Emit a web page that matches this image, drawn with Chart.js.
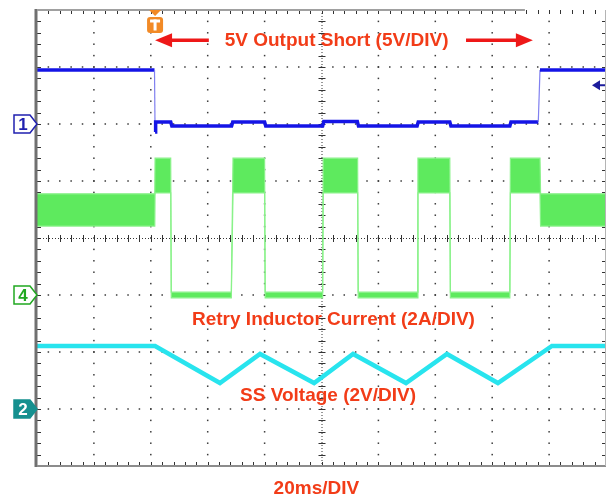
<!DOCTYPE html>
<html>
<head>
<meta charset="utf-8">
<script src="https://cdn.jsdelivr.net/npm/chart.js@4.4.0/dist/chart.umd.min.js"></script>
<style>
  body { margin: 0; background: #fff; }
  #scope { display: block; background: #fff; }
</style>
</head>
<body>
<canvas id="scope" width="610" height="499"></canvas>
<script>
// time axis in ms (20ms/DIV, 10 divisions), vertical axis in divisions (8)
const timeMin = 0, timeMax = 200;
const divMin = 0, divMax = 8;

// channel 1: output voltage, 5V/DIV, ground at division 6
const ch1Scale = 5, ch1Offset = 6;
const ch1Time  = [0, 41.3, 41.5, 41.7, 47.0, 47.4, 68.4, 68.8, 80.0, 80.4, 100.4, 100.8, 112.6, 113.0, 133.6, 134.0, 145.1, 145.5, 166.2, 166.6, 176.2, 176.8, 200];
const ch1Volts = [4.74, 4.74, -0.7, 0.18, 0.18, -0.18, -0.18, 0.18, 0.18, -0.18, -0.18, 0.22, 0.22, -0.18, -0.18, 0.18, 0.18, -0.18, -0.18, 0.18, 0.18, 4.74, 4.74];

// channel 4: inductor current, 2A/DIV, zero at division 3 (noise envelope)
const ch4Scale = 2, ch4Offset = 3;
const ch4Time  = [0, 41.4, 41.5, 47.0, 47.2, 68.3, 68.9, 80.0, 80.2, 100.4, 100.6, 112.7, 112.9, 133.7, 133.9, 145.1, 145.3, 166.2, 166.4, 176.8, 177.0, 200];
const ch4Upper = [3.55, 3.55, 4.8, 4.8, 0.1, 0.1, 4.8, 4.8, 0.1, 0.1, 4.8, 4.8, 0.1, 0.1, 4.8, 4.8, 0.1, 0.1, 4.8, 4.8, 3.55, 3.55];
const ch4Lower = [2.42, 2.42, 3.58, 3.58, -0.1, -0.1, 3.58, 3.58, -0.1, -0.1, 3.58, 3.58, -0.1, -0.1, 3.58, 3.58, -0.1, -0.1, 3.58, 3.58, 2.42, 2.42];

// channel 2: soft-start voltage, 2V/DIV, zero at division 1
const ch2Scale = 2, ch2Offset = 1;
const ch2Time  = [0, 41.5, 64.3, 78.4, 97.4, 111.1, 129.7, 144.1, 162.0, 181.0, 200];
const ch2Volts = [2.21, 2.21, 0.91, 1.93, 0.91, 1.93, 0.91, 1.93, 0.91, 2.21, 2.21];

const trigTime = 41.5;     // ms
const trigLevel = 3.4;     // ch1 volts

const toPoints = (t, v, sc, off) => t.map((tt, i) => ({ x: tt, y: off + v[i] / sc }));

const labelColor = '#f23c18';
const labelFont = 'bold 19px "Liberation Sans", Arial, sans-serif';

function arrow(ctx, x0, x1, yy) {
  // tail at x0, tip at x1
  const dir = Math.sign(x1 - x0);
  ctx.save();
  ctx.strokeStyle = '#ee1818';
  ctx.fillStyle = '#ee1818';
  ctx.lineWidth = 3.5;
  ctx.beginPath();
  ctx.moveTo(x0, yy);
  ctx.lineTo(x1 - dir * 12, yy);
  ctx.stroke();
  ctx.beginPath();
  ctx.moveTo(x1, yy);
  ctx.lineTo(x1 - dir * 17, yy - 7);
  ctx.lineTo(x1 - dir * 17, yy + 7);
  ctx.closePath();
  ctx.fill();
  ctx.restore();
}

function chMarker(ctx, xr, yc, num, stroke, fill, textColor) {
  ctx.save();
  ctx.beginPath();
  ctx.moveTo(xr - 23, yc - 9);
  ctx.lineTo(xr - 7, yc - 9);
  ctx.lineTo(xr, yc);
  ctx.lineTo(xr - 7, yc + 9);
  ctx.lineTo(xr - 23, yc + 9);
  ctx.closePath();
  ctx.fillStyle = fill;
  ctx.fill();
  ctx.lineWidth = 1.5;
  ctx.strokeStyle = stroke;
  ctx.stroke();
  ctx.fillStyle = textColor;
  ctx.font = 'bold 17px "Liberation Sans", Arial, sans-serif';
  ctx.textAlign = 'center';
  ctx.textBaseline = 'middle';
  ctx.fillText(num, xr - 14, yc + 1);
  ctx.restore();
}

const scopePlugin = {
  id: 'scope',
  beforeDatasetsDraw(chart) {
    const { ctx, chartArea: a, scales: { x, y } } = chart;
    ctx.save();
    ctx.fillStyle = '#3a3a3a';
    // grid dots
    for (let i = 1; i < 10; i++) {
      if (i === 5) continue;
      for (let k = 1; k < 40; k++) ctx.fillRect(x.getPixelForValue(i * 20) - 0.75, y.getPixelForValue(k * 0.2) - 0.75, 1.5, 1.5);
    }
    for (let j = 1; j < 8; j++) {
      if (j === 4) continue;
      for (let k = 1; k < 50; k++) ctx.fillRect(x.getPixelForValue(k * 4) - 0.75, y.getPixelForValue(j) - 0.75, 1.5, 1.5);
    }
    // center lines
    const cx = x.getPixelForValue(100), cy = y.getPixelForValue(4);
    ctx.strokeStyle = '#333';
    ctx.lineWidth = 1;
    ctx.setLineDash([1, 2]);
    ctx.beginPath();
    ctx.moveTo(cx + 0.5, a.top); ctx.lineTo(cx + 0.5, a.bottom);
    ctx.moveTo(a.left, cy + 0.5); ctx.lineTo(a.right, cy + 0.5);
    ctx.stroke();
    ctx.setLineDash([]);
    ctx.beginPath();
    for (let k = 1; k < 40; k++) {
      const py = Math.round(y.getPixelForValue(k * 0.2)) + 0.5;
      ctx.moveTo(cx - 3, py); ctx.lineTo(cx + 4, py);
      ctx.moveTo(a.left, py); ctx.lineTo(a.left + 4, py);
      ctx.moveTo(a.right - 4, py); ctx.lineTo(a.right, py);
    }
    for (let k = 1; k < 50; k++) {
      const px = Math.round(x.getPixelForValue(k * 4)) + 0.5;
      ctx.moveTo(px, cy - 3); ctx.lineTo(px, cy + 4);
      ctx.moveTo(px, a.top); ctx.lineTo(px, a.top + 4);
      ctx.moveTo(px, a.bottom - 4); ctx.lineTo(px, a.bottom);
    }
    ctx.stroke();
    ctx.restore();
  },
  afterDatasetsDraw(chart) {
    const { ctx, chartArea: a, scales: { x, y } } = chart;
    ctx.save();
    // frame
    ctx.strokeStyle = '#707070';
    ctx.lineWidth = 3;
    ctx.beginPath(); ctx.moveTo(a.left - 1, a.top - 1); ctx.lineTo(a.left - 1, a.bottom + 1); ctx.stroke();
    ctx.strokeStyle = '#8c8c8c';
    ctx.lineWidth = 2;
    ctx.beginPath(); ctx.moveTo(a.left, a.bottom); ctx.lineTo(a.right, a.bottom); ctx.stroke();
    ctx.strokeStyle = '#a0a0a0';
    ctx.beginPath(); ctx.moveTo(a.left, a.top); ctx.lineTo(x.getPixelForValue(171.5), a.top); ctx.stroke();
    ctx.strokeStyle = '#b4b4b4';
    ctx.lineWidth = 1;
    ctx.beginPath(); ctx.moveTo(a.right - 0.5, a.top); ctx.lineTo(a.right - 0.5, a.bottom); ctx.stroke();

    // trigger marker
    const tx = x.getPixelForValue(trigTime);
    ctx.fillStyle = '#f28a26';
    ctx.beginPath();
    ctx.moveTo(tx - 6, a.top); ctx.lineTo(tx + 6, a.top); ctx.lineTo(tx, a.top + 6); ctx.closePath(); ctx.fill();
    ctx.beginPath();
    ctx.roundRect(tx - 8, a.top + 7, 16, 16, 3);
    ctx.fill();
    ctx.fillStyle = '#fff';
    ctx.fillRect(tx - 5, a.top + 9.5, 10, 3);
    ctx.fillRect(tx - 1.5, a.top + 9.5, 3, 11);

    // trigger level arrow (right side)
    const ly = y.getPixelForValue(ch1Offset + trigLevel / ch1Scale);
    ctx.fillStyle = '#1c1c9c';
    ctx.strokeStyle = '#1c1c9c';
    ctx.beginPath(); ctx.moveTo(a.right - 14, ly); ctx.lineTo(a.right - 6, ly - 5); ctx.lineTo(a.right - 6, ly + 5); ctx.closePath(); ctx.fill();
    ctx.lineWidth = 2;
    ctx.beginPath(); ctx.moveTo(a.right - 7, ly); ctx.lineTo(a.right - 1, ly); ctx.stroke();

    // channel markers
    chMarker(ctx, a.left, y.getPixelForValue(ch1Offset), '1', '#2020b0', '#fff', '#2020b0');
    chMarker(ctx, a.left, y.getPixelForValue(ch4Offset), '4', '#20a820', '#fff', '#20a820');
    chMarker(ctx, a.left, y.getPixelForValue(ch2Offset), '2', '#15908f', '#15908f', '#fff');

    // annotations
    const ay = y.getPixelForValue(7.47);
    arrow(ctx, x.getPixelForValue(60.4), x.getPixelForValue(trigTime), ay);
    arrow(ctx, x.getPixelForValue(150.8), x.getPixelForValue(174.3), ay);

    ctx.fillStyle = labelColor;
    ctx.font = labelFont;
    ctx.textAlign = 'center';
    ctx.textBaseline = 'middle';
    ctx.fillText('5V Output Short (5V/DIV)', x.getPixelForValue(105.3), ay + 1);
    ctx.fillText('Retry Inductor Current (2A/DIV)', x.getPixelForValue(104.2), y.getPixelForValue(2.56));
    ctx.fillText('SS Voltage (2V/DIV)', x.getPixelForValue(102.3), y.getPixelForValue(1.23));
    ctx.fillText('20ms/DIV', x.getPixelForValue(98.2), y.getPixelForValue(-0.4));
    ctx.restore();
  }
};

const steep = (c) => Math.abs(c.p1.parsed.x - c.p0.parsed.x) < 1 && Math.abs(c.p1.parsed.y - c.p0.parsed.y) > 0.3;

new Chart(document.getElementById('scope'), {
  type: 'scatter',
  data: {
    datasets: [
      {
        label: 'Output voltage',
        data: toPoints(ch1Time, ch1Volts, ch1Scale, ch1Offset),
        showLine: true,
        borderColor: '#1414e6',
        borderWidth: 3.5,
        pointRadius: 0,
        segment: {
          borderColor: c => steep(c) ? '#8080f0' : undefined,
          borderWidth: c => steep(c) ? 1.2 : undefined
        }
      },
      {
        label: 'Inductor current max',
        data: toPoints(ch4Time, ch4Upper, ch4Scale, ch4Offset),
        showLine: true,
        borderColor: '#8af28a',
        borderWidth: 1.2,
        pointRadius: 0
      },
      {
        label: 'Inductor current min',
        data: toPoints(ch4Time, ch4Lower, ch4Scale, ch4Offset),
        showLine: true,
        borderColor: '#8af28a',
        borderWidth: 1.2,
        pointRadius: 0,
        fill: '-1',
        backgroundColor: '#5eea5e'
      },
      {
        label: 'SS voltage',
        data: toPoints(ch2Time, ch2Volts, ch2Scale, ch2Offset),
        showLine: true,
        borderColor: '#28e4ee',
        borderWidth: 4.5,
        pointRadius: 0
      }
    ]
  },
  options: {
    responsive: false,
    animation: false,
    layout: { padding: { left: 37, right: 4, top: 10, bottom: 33 } },
    plugins: { legend: { display: false }, tooltip: { enabled: false } },
    scales: {
      x: { type: 'linear', min: timeMin, max: timeMax, display: false },
      y: { type: 'linear', min: divMin, max: divMax, display: false }
    }
  },
  plugins: [scopePlugin]
});
</script>
</body>
</html>
